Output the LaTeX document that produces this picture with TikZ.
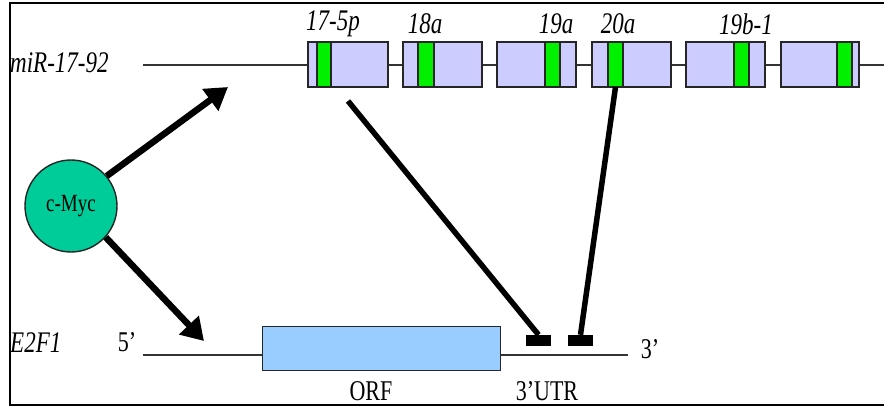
\documentclass[tikz,border=0pt]{standalone}
\usepackage{fontspec}
\setmainfont{Liberation Serif}
\usetikzlibrary{arrows.meta}
\definecolor{lav}{RGB}{204,204,255}
\definecolor{grn}{RGB}{0,240,0}
\definecolor{myc}{RGB}{0,204,153}
\definecolor{orf}{RGB}{153,204,255}
\tikzset{
  mirbox/.style={draw=black!85,line width=1.4pt,fill=lav},
  seed/.style={draw=black!85,line width=1.4pt,fill=grn},
  gene/.style={line width=1.4pt,draw=black!80},
  lab/.style={font=\fontsize{23}{23}\selectfont\itshape,inner sep=0pt},
  txt/.style={font=\fontsize{22}{22}\selectfont,inner sep=0pt},
  actarrow/.style={line width=6.5pt,-{Triangle[length=22pt,width=26pt]}},
  inhib/.style={line width=5.5pt},
  bar/.style={fill=black,draw=none}
}
\newcommand{\tall}[1]{\scalebox{1}[1.3]{#1}}
\begin{document}
\begin{tikzpicture}[x=1pt,y=-1pt]
\useasboundingbox (0,0) rectangle (884,409);
\fill[white] (0,0) rectangle (884,409);
% frame
\draw[line width=2.2pt] (884,3) -- (10,3) -- (10,405) -- (884,405);
% miR-17-92 line
\coordinate (ml0) at (143,65);
\coordinate (ml1) at (884,65);
\draw[gene] (ml0) -- (ml1);
\node[lab,anchor=west] (mirlab) at (10,63) {\tall{miR-17-92}};
% boxes
\foreach \a/\b/\ga/\gb/\n in {308/388/317/331/1,403/482/418/434/2,497/576/545/560/3,592/671/608/623/4,686/765/734/749/5,781/859/837/852/6}{
  \draw[mirbox] (\a,42) rectangle (\b,87);
  \draw[seed] (\ga,42) rectangle (\gb,87);
  \coordinate (g\n) at ({(\ga+\gb)/2},87);
}
\node[lab] (l1) at (333,24) {\tall{17-5p}};
\node[lab] (l2) at (425,24) {\tall{18a}};
\node[lab] (l3) at (556,24) {\tall{19a}};
\node[lab] (l4) at (618,24) {\tall{20a}};
\node[lab] (l5) at (746,24) {\tall{19b-1}};
% c-Myc
\node[circle,draw=black!85,line width=1.4pt,fill=myc,minimum size=92pt,inner sep=0pt,font=\fontsize{19}{19}\selectfont] (myc) at (71,206) {\scalebox{1}[1.3]{c-Myc}};
% E2F1
\node[lab,anchor=west] (e2f1) at (10,343) {\tall{E2F1}};
\node[txt] (five) at (127,342) {\tall{5’}};
\coordinate (el0) at (143,355);
\coordinate (el1) at (628,355);
\draw[gene] (el0) -- (el1);
\node[draw=black!85,line width=1.4pt,fill=orf,minimum width=238pt,minimum height=44pt,inner sep=0pt,anchor=north west] (orfbox) at (262,326) {};
\node[txt] (three) at (650,349) {\tall{3’}};
\node[txt] (orflab) at (371,391) {\tall{ORF}};
\node[txt] (utr) at (547,391) {\tall{3’UTR}};
% arrows
\coordinate (t1) at (228,87);
\coordinate (t2) at (204,341);
\draw[actarrow] (myc.40) -- (t1);
\draw[actarrow] (myc.-42) -- (t2);
% inhibition
\node[bar,minimum width=25pt,minimum height=11pt,inner sep=0pt] (b1) at (538.5,340.5) {};
\node[bar,minimum width=25pt,minimum height=11pt,inner sep=0pt] (b2) at (580.5,340.5) {};
\coordinate (s1) at (348,101);
\draw[inhib] (s1) -- (b1.north);
\draw[inhib] (g4) -- (b2.north);
\end{tikzpicture}
\end{document}
